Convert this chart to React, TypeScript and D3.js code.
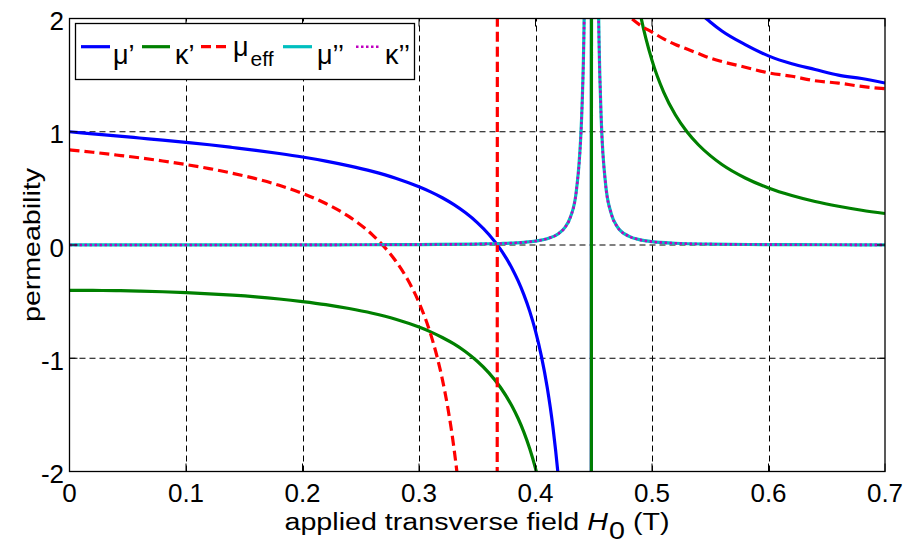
import React from 'react';
import * as d3 from 'd3';

// ---------- data ----------
const X_TICKS = [0, 0.1, 0.2, 0.3, 0.4, 0.5, 0.6, 0.7];
const Y_TICKS = [-2, -1, 0, 1, 2];

// mu' (real part of diagonal permeability)
const MU_P_H = [0, 0.02, 0.04, 0.06, 0.08, 0.10, 0.12, 0.14, 0.16, 0.18, 0.20, 0.22, 0.24, 0.26, 0.28, 0.30, 0.31, 0.32, 0.33, 0.34, 0.35, 0.36, 0.37, 0.38, 0.385, 0.39, 0.395, 0.40, 0.405, 0.41, 0.415, 0.42, 0.425, 0.435, 0.44, 0.4468, 0.4492, 0.452, 0.46, 0.47, 0.48, 0.49, 0.50, 0.51, 0.52, 0.53, 0.54, 0.55, 0.56, 0.58, 0.60, 0.62, 0.64, 0.66, 0.68, 0.70];
const MU_P = [1, 0.982, 0.964, 0.945, 0.926, 0.906, 0.885, 0.861, 0.836, 0.808, 0.777, 0.741, 0.699, 0.650, 0.590, 0.514, 0.469, 0.417, 0.356, 0.284, 0.198, 0.093, -0.039, -0.209, -0.315, -0.438, -0.584, -0.761, -0.979, -1.254, -1.611, -2.097, -2.793, -5.79, -10.10, -37.4, 39.4, 23, 8.57, 5.17, 3.90, 3.23, 2.82, 2.54, 2.34, 2.18, 2.06, 1.97, 1.89, 1.77, 1.67, 1.60, 1.55, 1.50, 1.47, 1.43];

// kappa' (real part of off-diagonal)
const KAPPA_P_H = [0, 0.02, 0.04, 0.06, 0.08, 0.10, 0.12, 0.14, 0.16, 0.18, 0.20, 0.22, 0.24, 0.26, 0.28, 0.30, 0.31, 0.32, 0.33, 0.34, 0.35, 0.36, 0.37, 0.38, 0.385, 0.39, 0.395, 0.40, 0.405, 0.41, 0.42, 0.435, 0.44, 0.4468, 0.4492, 0.452, 0.46, 0.47, 0.48, 0.49, 0.50, 0.51, 0.52, 0.53, 0.54, 0.55, 0.56, 0.58, 0.60, 0.62, 0.64, 0.66, 0.68, 0.70];
const KAPPA_P = [-0.400, -0.401, -0.403, -0.407, -0.413, -0.421, -0.431, -0.443, -0.458, -0.477, -0.500, -0.527, -0.561, -0.603, -0.656, -0.725, -0.767, -0.817, -0.874, -0.943, -1.027, -1.129, -1.258, -1.426, -1.530, -1.652, -1.797, -1.972, -2.189, -2.462, -3.303, -6.99, -11.30, -38.2, 38.6, 22, 7.37, 3.98, 2.70, 2.04, 1.63, 1.35, 1.15, 1.00, 0.883, 0.789, 0.711, 0.592, 0.504, 0.437, 0.384, 0.342, 0.307, 0.278];

// mu_eff
const MU_EFF_H = [0, 0.02, 0.04, 0.06, 0.08, 0.10, 0.12, 0.14, 0.16, 0.18, 0.20, 0.22, 0.24, 0.26, 0.27, 0.28, 0.29, 0.30, 0.31, 0.315, 0.32, 0.325, 0.33, 0.335, 0.34, 0.35, 0.36, 0.365, 0.3695, 0.38, 0.39, 0.40, 0.42, 0.43, 0.44, 0.448, 0.46, 0.47, 0.48, 0.49, 0.50, 0.51, 0.52, 0.53, 0.54, 0.55, 0.56, 0.58, 0.60, 0.62, 0.64, 0.66, 0.68, 0.70];
const MU_EFF = [0.840, 0.819, 0.795, 0.770, 0.742, 0.710, 0.675, 0.633, 0.585, 0.527, 0.456, 0.366, 0.250, 0.090, -0.014, -0.141, -0.301, -0.508, -0.787, -0.967, -1.184, -1.453, -1.793, -2.239, -2.849, -5.12, -13.66, -46.1, 49.2, 9.50, 5.79, 4.35, 3.11, 2.78, 2.55, 2.40, 2.23, 2.11, 2.02, 1.94, 1.88, 1.82, 1.77, 1.73, 1.69, 1.65, 1.62, 1.57, 1.52, 1.49, 1.45, 1.43, 1.40, 1.38];

// mu'' and kappa'' (imaginary parts)
const LOSS_H = [0, 0.1, 0.2, 0.25, 0.3, 0.35, 0.37, 0.39, 0.40, 0.41, 0.42, 0.425, 0.43, 0.435, 0.44, 0.442, 0.444, 0.446, 0.448, 0.450, 0.452, 0.454, 0.456, 0.46, 0.465, 0.47, 0.48, 0.49, 0.50, 0.52, 0.55, 0.60, 0.65, 0.70];
const MU_PP = [0.0008, 0.0009, 0.0015, 0.0022, 0.0038, 0.0085, 0.0133, 0.0240, 0.0349, 0.0557, 0.1025, 0.1515, 0.247, 0.473, 1.239, 2.182, 4.78, 16.7, 100, 16.7, 4.78, 2.181, 1.238, 0.554, 0.277, 0.165, 0.0784, 0.0455, 0.0298, 0.0155, 0.0078, 0.0035, 0.0020, 0.0013];
const KAPPA_PP = [0, 0.0004, 0.0011, 0.0019, 0.0035, 0.0082, 0.0131, 0.0238, 0.0347, 0.0555, 0.1023, 0.1513, 0.247, 0.473, 1.239, 2.182, 4.78, 16.7, 100, 16.7, 4.78, 2.181, 1.238, 0.553, 0.276, 0.164, 0.0782, 0.0452, 0.0296, 0.0153, 0.0076, 0.0034, 0.0019, 0.0012];

const FONT = '"Liberation Sans", Arial, Helvetica, sans-serif';

export default function App() {
  const W = 908;
  const Hh = 545;
  const L = 69.5, R = 885, T = 18.5, B = 471.5;
  const x = d3.scaleLinear().domain([0, 0.7]).range([L, R]);
  const y = d3.scaleLinear().domain([-2, 2]).range([B, T]);
  const line = d3
    .line<[number, number]>()
    .x((d) => x(d[0]))
    .y((d) => y(d[1]))
    .curve(d3.curveMonotoneX);
  const mk = (hs: number[], vs: number[]) =>
    line(hs.map((h, i) => [h, vs[i]] as [number, number])) || '';

  const series = [
    { d: mk(MU_P_H, MU_P), color: '#0000ff', w: 3.2, dash: undefined as string | undefined },
    { d: mk(KAPPA_P_H, KAPPA_P), color: '#008000', w: 3.2, dash: undefined },
    { d: mk(MU_EFF_H, MU_EFF), color: '#ff0000', w: 3.2, dash: '10,5' },
    { d: mk(LOSS_H, MU_PP), color: '#00bfbf', w: 3.2, dash: undefined },
    { d: mk(LOSS_H, KAPPA_PP), color: '#bf00bf', w: 2.6, dash: '2.5,2.5' },
  ];

  const tickLen = 8;
  const legendY = 46.7;
  const legendItems = [
    { x1: 81, x2: 110, color: '#0000ff', dash: undefined as string | undefined, w: 3.2 },
    { x1: 142, x2: 170, color: '#008000', dash: undefined, w: 3.2 },
    { x1: 201, x2: 228, color: '#ff0000', dash: '10,5', w: 3.2 },
    { x1: 283, x2: 312, color: '#00bfbf', dash: undefined, w: 3.2 },
    { x1: 356, x2: 380, color: '#bf00bf', dash: '2.5,2.5', w: 2.6 },
  ];

  return (
    <svg
      width={W}
      height={Hh}
      style={{ position: 'fixed', left: 0, top: 0, background: '#fff' }}
      fontFamily={FONT}
    >
      <defs>
        <clipPath id="plotClip">
          <rect x={L} y={T} width={R - L} height={B - T} />
        </clipPath>
      </defs>
      <rect x={0} y={0} width={W} height={Hh} fill="#fff" />
      <rect x={L} y={T} width={R - L} height={B - T} fill="#fff" />

      {/* grid */}
      {X_TICKS.filter((t) => t > 0 && t < 0.7).map((t) => (
        <line key={'gx' + t} x1={Math.round(x(t)) + 0.5} x2={Math.round(x(t)) + 0.5} y1={B} y2={T}
          stroke="#000" strokeWidth={1} strokeDasharray="6,4" />
      ))}
      {Y_TICKS.filter((t) => t > -2 && t < 2).map((t) => (
        <line key={'gy' + t} x1={L} x2={R} y1={y(t)} y2={y(t)}
          stroke="#000" strokeWidth={1} strokeDasharray="6,4" />
      ))}

      {/* curves */}
      <g clipPath="url(#plotClip)">
        {series.map((s, i) => (
          <path key={i} d={s.d} fill="none" stroke={s.color} strokeWidth={s.w}
            strokeDasharray={s.dash} strokeLinejoin="round" />
        ))}
      </g>

      {/* ticks */}
      {X_TICKS.map((t) => (
        <g key={'tx' + t}>
          <line x1={x(t)} x2={x(t)} y1={B} y2={B - tickLen} stroke="#000" strokeWidth={1} />
          <line x1={x(t)} x2={x(t)} y1={T} y2={T + tickLen} stroke="#000" strokeWidth={1} />
          <text x={x(t)} y={502} textAnchor="middle" fontSize={26} fill="#000">{String(t)}</text>
        </g>
      ))}
      {Y_TICKS.map((t) => (
        <g key={'ty' + t}>
          <line x1={L} x2={L + tickLen} y1={y(t)} y2={y(t)} stroke="#000" strokeWidth={1} />
          <line x1={R} x2={R - tickLen} y1={y(t)} y2={y(t)} stroke="#000" strokeWidth={1} />
          <text x={64} y={y(t) + 11.5} textAnchor="end" fontSize={26} fill="#000">{String(t)}</text>
        </g>
      ))}

      {/* axes box */}
      <rect x={L} y={T} width={R - L} height={B - T} fill="none" stroke="#000" strokeWidth={1.3} />

      {/* legend */}
      <rect x={75.5} y={23.5} width={339} height={56} fill="#fff" stroke="#000" strokeWidth={1.3} />
      {legendItems.map((it, i) => (
        <line key={'lg' + i} x1={it.x1} x2={it.x2} y1={legendY} y2={legendY} stroke={it.color}
          strokeWidth={it.w} strokeDasharray={it.dash} />
      ))}
      <text x={113} y={64} fontSize={27} fill="#000">μ’</text>
      <text x={175} y={64} fontSize={27} fill="#000">κ’</text>
      <text x={233} y={56} fontSize={27} fill="#000">μ<tspan dx={2} dy={10} fontSize={21}>eff</tspan></text>
      <text x={317} y={64} fontSize={27} fill="#000">μ’’</text>
      <text x={385} y={64} fontSize={27} fill="#000">κ’’</text>

      {/* axis labels */}
      <text transform="translate(477,530) scale(1.17,1)" textAnchor="middle" fontSize={24.5} fill="#000">
        applied transverse field <tspan fontStyle="italic">H</tspan>
        <tspan dx={1} dy={9}>0</tspan>
        <tspan dy={-9}> (T)</tspan>
      </text>
      <text transform="translate(40,245) rotate(-90) scale(1.19,1)" textAnchor="middle" fontSize={24} fill="#000">
        permeability
      </text>
    </svg>
  );
}
